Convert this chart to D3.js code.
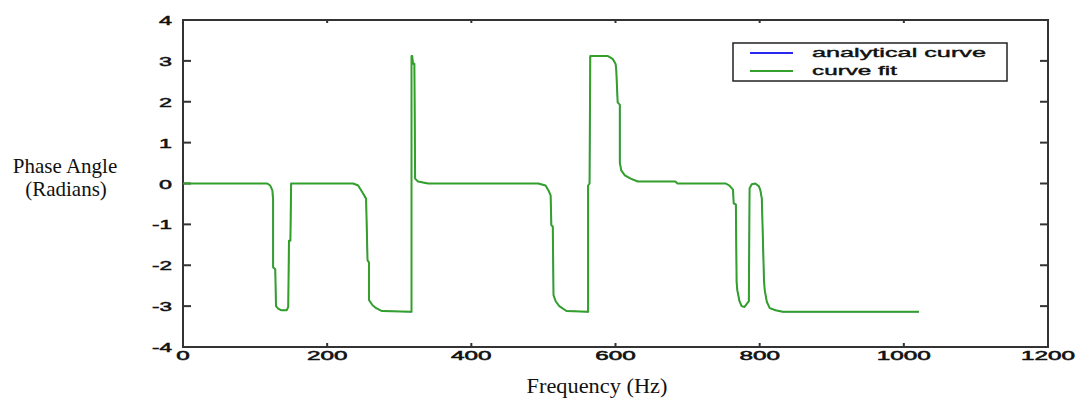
<!DOCTYPE html>
<html>
<head>
<meta charset="utf-8">
<script src="https://cdn.jsdelivr.net/npm/d3@7"></script>
<style>
  html, body { margin: 0; padding: 0; background: #fff; }
  svg { display: block; }
</style>
</head>
<body>
<svg id="chart" width="1078" height="403"></svg>
<script>
// ---- Data ----
const xTicks = [0, 200, 400, 600, 800, 1000, 1200];
const yTicks = [-4, -3, -2, -1, 0, 1, 2, 3, 4];
const legendLabels = ["analytical curve", "curve fit"];

// frequency (Hz) and phase (rad) of the fitted curve
const fitFreq = [0, 117, 121, 124, 125, 125, 128, 129, 132, 136, 144, 146, 147, 149, 150,
  236, 243, 249, 254, 256, 258, 258, 263, 268, 276, 317, 317, 318, 319, 321, 322, 326, 340,
  493, 503, 507, 510, 511, 513, 514, 517, 522, 532, 562, 562, 564, 565, 589, 596, 600, 601, 603, 606, 606, 608, 613, 621, 631, 683, 686,
  753, 758, 763, 764, 767, 768, 769, 772, 775, 779, 785, 786, 789, 794, 799, 801, 803, 806, 807, 810, 814, 822, 832, 1021];
const fitPhase = [0, 0, -0.05, -0.17, -0.4, -2.05, -2.1, -3.0, -3.06, -3.1, -3.1, -3.02, -1.4, -1.4, 0,
  0, -0.05, -0.22, -0.37, -1.88, -1.93, -2.85, -2.98, -3.05, -3.12, -3.14, 3.12, 3.12, 2.93, 2.93, 0.12, 0.05, 0,
  0, -0.05, -0.17, -0.29, -1.02, -1.05, -2.73, -2.88, -3.0, -3.12, -3.14, -0.05, 0, 3.12, 3.12, 3.05, 2.93, 2.8, 1.98, 1.93, 0.51, 0.32, 0.2, 0.12, 0.05, 0.05, 0,
  0, -0.05, -0.15, -0.49, -0.51, -2.41, -2.61, -2.88, -3.0, -3.02, -2.88, -0.12, -0.02, 0, -0.07, -0.17, -0.37, -2.37, -2.61, -2.9, -3.05, -3.1, -3.14, -3.14];

// analytical curve lies underneath the fit (hidden in the picture)
const analyticFreq = fitFreq;
const analyticPhase = fitPhase;

// ---- Layout ----
const svg = d3.select("#chart");
const L = 183, R = 1048, T = 20, B = 347;

const x = d3.scaleLinear().domain([0, 1200]).range([L, R]);
const y = d3.scaleLinear().domain([-4, 4]).range([B, T]);

const tickFont = "'Liberation Sans', Arial, sans-serif";
const serif = "'Liberation Serif', 'Times New Roman', serif";

// frame
svg.append("rect")
  .attr("x", L).attr("y", T).attr("width", R - L).attr("height", B - T)
  .attr("fill", "none").attr("stroke", "#333").attr("stroke-width", 2);

// y ticks (left & right, inward)
yTicks.forEach(v => {
  svg.append("line").attr("x1", L).attr("x2", L + 8).attr("y1", y(v)).attr("y2", y(v))
    .attr("stroke", "#333").attr("stroke-width", 2);
  svg.append("line").attr("x1", R).attr("x2", R - 8).attr("y1", y(v)).attr("y2", y(v))
    .attr("stroke", "#333").attr("stroke-width", 2);
  const s = String(v);
  const len = (s.startsWith("-") ? 7 : 0) + 13 * s.replace("-", "").length;
  svg.append("text")
    .attr("x", 172).attr("y", y(v) + 5)
    .attr("text-anchor", "end")
    .attr("font-family", tickFont).attr("font-size", 13)
    .attr("fill", "#111").attr("stroke", "#111").attr("stroke-width", 0.5)
    .attr("textLength", len).attr("lengthAdjust", "spacingAndGlyphs")
    .text(s);
});

// x ticks (bottom & top, inward)
xTicks.forEach(v => {
  svg.append("line").attr("x1", x(v)).attr("x2", x(v)).attr("y1", B).attr("y2", B - 4)
    .attr("stroke", "#333").attr("stroke-width", 2);
  svg.append("line").attr("x1", x(v)).attr("x2", x(v)).attr("y1", T).attr("y2", T + 3)
    .attr("stroke", "#333").attr("stroke-width", 2);
  const s = String(v);
  svg.append("text")
    .attr("x", x(v)).attr("y", 360)
    .attr("text-anchor", "middle")
    .attr("font-family", tickFont).attr("font-size", 12)
    .attr("fill", "#111").attr("stroke", "#111").attr("stroke-width", 0.5)
    .attr("textLength", 13.5 * s.length).attr("lengthAdjust", "spacingAndGlyphs")
    .text(s);
});

// lines
const line = d3.line().x(d => x(d[0])).y(d => y(d[1]));
const analytic = analyticFreq.map((f, i) => [f, analyticPhase[i]]);
const fit = fitFreq.map((f, i) => [f, fitPhase[i]]);

svg.append("path").datum(analytic).attr("d", line)
  .attr("fill", "none").attr("stroke", "#2828f0").attr("stroke-width", 1);
svg.append("path").datum(fit).attr("d", line)
  .attr("fill", "none").attr("stroke", "#33a02c").attr("stroke-width", 2)
  .attr("stroke-linejoin", "round");

// legend
const lg = svg.append("g");
lg.append("rect").attr("x", 733).attr("y", 43).attr("width", 274).attr("height", 38)
  .attr("fill", "#fff").attr("stroke", "#222").attr("stroke-width", 1.5);
const legColors = ["#2828f0", "#33a02c"];
const legY = [53, 71];
const legLen = [174, 85];
legendLabels.forEach((lab, i) => {
  lg.append("line").attr("x1", 750).attr("x2", 793).attr("y1", legY[i]).attr("y2", legY[i])
    .attr("stroke", legColors[i]).attr("stroke-width", 2);
  lg.append("text").attr("x", 812).attr("y", legY[i] + 4)
    .attr("font-family", tickFont).attr("font-size", 13)
    .attr("fill", "#111").attr("stroke", "#111").attr("stroke-width", 0.4)
    .attr("textLength", legLen[i]).attr("lengthAdjust", "spacingAndGlyphs")
    .text(lab);
});

// axis titles
svg.append("text").attr("x", 65).attr("y", 173).attr("text-anchor", "middle")
  .attr("font-family", serif).attr("font-size", 21).attr("fill", "#111")
  .text("Phase Angle");
svg.append("text").attr("x", 66).attr("y", 196).attr("text-anchor", "middle")
  .attr("font-family", serif).attr("font-size", 21).attr("fill", "#111")
  .text("(Radians)");
svg.append("text").attr("x", 597).attr("y", 393).attr("text-anchor", "middle")
  .attr("font-family", serif).attr("font-size", 22).attr("fill", "#111")
  .attr("textLength", 141).attr("lengthAdjust", "spacingAndGlyphs")
  .text("Frequency (Hz)");
</script>
</body>
</html>
